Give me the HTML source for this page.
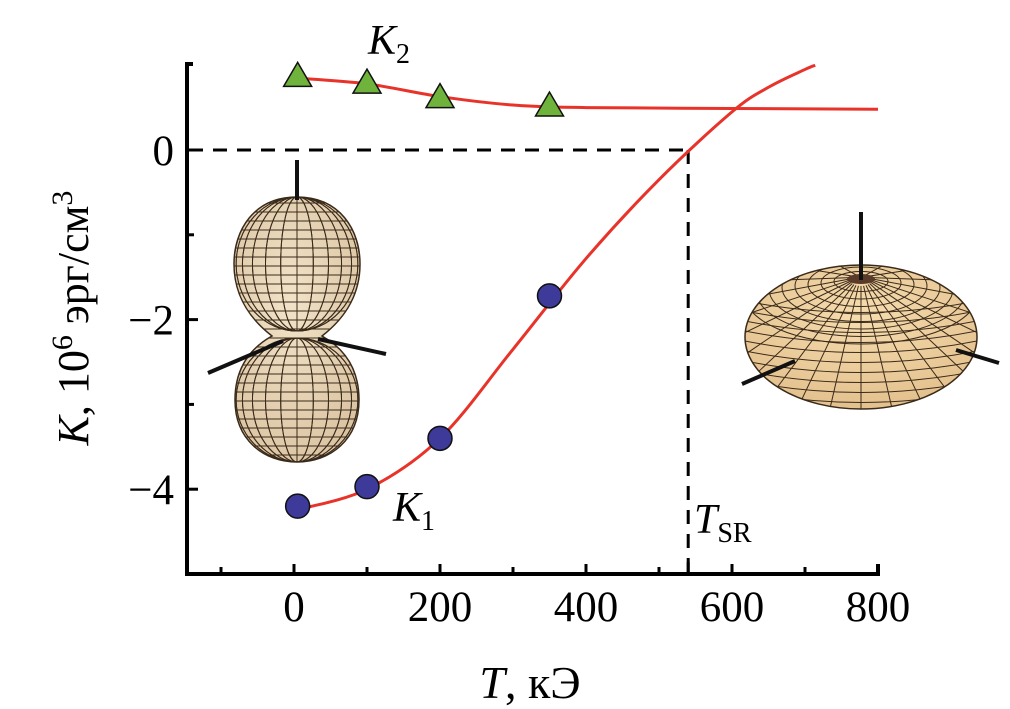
<!DOCTYPE html>
<html><head><meta charset="utf-8">
<style>
html,body{margin:0;padding:0;background:#fff;}
svg{display:block;font-family:"Liberation Serif",serif;}
</style></head>
<body>
<svg id="chart" width="1010" height="709" viewBox="0 0 1010 709">
<defs>
<clipPath id="peanutClip"><path d="M297,197 C340,197 360,230 360,264 C360,300 340,322 322,336 C347,350 359,372 359,400 C359,440 330,462 297,462 C264,462 235,440 235,400 C235,372 247,350 272,336 C254,322 234,300 234,264 C234,230 254,197 297,197 Z"/></clipPath>
<clipPath id="torusClip"><ellipse cx="861" cy="337" rx="116" ry="72"/></clipPath>
<radialGradient id="peanutGrad" cx="0.45" cy="0.4" r="0.7"><stop offset="0" stop-color="#f2e3c8"/><stop offset="1" stop-color="#d9c2a0"/></radialGradient>
<radialGradient id="torusGrad" cx="0.5" cy="0.35" r="0.7"><stop offset="0" stop-color="#f6dcae"/><stop offset="1" stop-color="#e2bf8c"/></radialGradient>
</defs>
<g id="peanut"></g>
<g id="torus"></g>
<g id="plot"></g>
</svg>
<script>
const xTicks=[0,200,400,600,800];
const xMinor=[-100,100,300,500,700];
const yTicks=[0,-2,-4];
const yMinor=[-1,-3];
const k1T=[5,100,200,350];
const k1V=[-4.2,-3.97,-3.4,-1.72];
const k2T=[5,100,200,350];
const k2V=[0.88,0.80,0.63,0.53];
const k1FitT=[0,100,200,300,400,500,600,650,700,714];
const k1FitV=[-4.25,-4.0,-3.4,-2.35,-1.28,-0.35,0.45,0.74,0.95,1.0];
const k2FitT=[0,100,200,300,400,600,800];
const k2FitV=[0.85,0.78,0.63,0.53,0.5,0.49,0.48];
const tSR=540;

const X=t=>294+t*0.73;
const Y=v=>150-v*84.8;
const NS='http://www.w3.org/2000/svg';
function mk(tag,attrs,parent){const e=document.createElementNS(NS,tag);for(const k in attrs)e.setAttribute(k,attrs[k]);(parent||plot).appendChild(e);return e;}
const plot=document.getElementById('plot');
const peanut=document.getElementById('peanut');
const torus=document.getElementById('torus');

let e=mk('path',{d:document.querySelector('#peanutClip path').getAttribute('d'),fill:'url(#peanutGrad)',stroke:'#3a2a1a','stroke-width':1.5},peanut);


let pg=mk('g',{'clip-path':'url(#peanutClip)',stroke:'#3a2a1a','stroke-width':1,fill:'none'},peanut);


for(let y=203;y<462;y+=9){mk('line',{x1:230,x2:365,y1:y,y2:y},pg);}
for(let i=1;i<12;i++){const rx=63*Math.cos(i*Math.PI/12);mk('ellipse',{cx:297,cy:264,rx:Math.abs(rx),ry:67},pg);mk('ellipse',{cx:297,cy:400,rx:Math.abs(rx),ry:62},pg);}
e=mk('line',{x1:297,y1:160,x2:297,y2:200,stroke:'#111','stroke-width':4},peanut);

e=mk('line',{x1:208,y1:373,x2:283,y2:341,stroke:'#111','stroke-width':4},peanut);

e=mk('line',{x1:318,y1:339,x2:386,y2:354,stroke:'#111','stroke-width':4},peanut);


e=mk('ellipse',{cx:861,cy:337,rx:116,ry:72,fill:'url(#torusGrad)',stroke:'#3a2a1a','stroke-width':1.5},torus);

let tg=mk('g',{'clip-path':'url(#torusClip)',stroke:'#3a2a1a','stroke-width':1,fill:'none'},torus);

for(let i=1;i<9;i++){mk('ellipse',{cx:861,cy:280+i*1.5,rx:14+i*13,ry:4+i*6},tg);}
for(let y=300;y<410;y+=10){mk('path',{d:`M740,${y} Q861,${y+25} 982,${y}`},tg);}
for(let i=0;i<24;i++){const a=i*Math.PI/12;const c=Math.cos(a),s=Math.sin(a);mk('line',{x1:861+10*c,y1:281+5*s,x2:861+125*c,y2:337+80*s},tg);}
e=mk('ellipse',{cx:861,cy:279,rx:14,ry:5,fill:'#5a3a28'},torus);

e=mk('line',{x1:861,y1:212,x2:861,y2:280,stroke:'#111','stroke-width':4},torus);

e=mk('line',{x1:742,y1:384,x2:795,y2:361,stroke:'#111','stroke-width':4},torus);

e=mk('line',{x1:956,y1:350,x2:999,y2:363,stroke:'#111','stroke-width':4},torus);


e=mk('path',{d:`M193,64 H187 V574 H878 V564`,fill:'none',stroke:'#000','stroke-width':4});

xTicks.forEach(t=>{let l=mk('line',{x1:X(t),x2:X(t),y1:574,y2:564,stroke:'#000','stroke-width':3});

let tx=mk('text',{x:X(t),y:621,'font-size':43,'text-anchor':'middle'});tx.textContent=t;
});
xMinor.forEach(t=>{let l=mk('line',{x1:X(t),x2:X(t),y1:574,y2:567,stroke:'#000','stroke-width':3});
});
yTicks.forEach(v=>{let l=mk('line',{x1:187,x2:198,y1:Y(v),y2:Y(v),stroke:'#000','stroke-width':3});

let tx=mk('text',{x:174,y:Y(v)+15,'font-size':43,'text-anchor':'end'});tx.textContent=v<0?'\u2212'+(-v):v;
});
yMinor.forEach(v=>{let l=mk('line',{x1:187,x2:194,y1:Y(v),y2:Y(v),stroke:'#000','stroke-width':3});
});
e=mk('line',{x1:X(tSR),x2:X(tSR),y1:574,y2:562,stroke:'#000','stroke-width':3});


e=mk('line',{x1:189,x2:X(tSR),y1:Y(0),y2:Y(0),stroke:'#000','stroke-width':3,'stroke-dasharray':'14,10'});

e=mk('line',{x1:X(tSR),x2:X(tSR),y1:Y(0),y2:572,stroke:'#000','stroke-width':3,'stroke-dasharray':'14,10'});


function smooth(ts,vs){const p=ts.map((t,i)=>[X(t),Y(vs[i])]);let d=`M${p[0][0]},${p[0][1]}`;
for(let i=0;i<p.length-1;i++){const p0=p[i-1]||p[i],p1=p[i],p2=p[i+1],p3=p[i+2]||p2;
d+=` C${p1[0]+(p2[0]-p0[0])/6},${p1[1]+(p2[1]-p0[1])/6} ${p2[0]-(p3[0]-p1[0])/6},${p2[1]-(p3[1]-p1[1])/6} ${p2[0]},${p2[1]}`;}return d;}
e=mk('path',{d:smooth(k2FitT,k2FitV),fill:'none',stroke:'#e8332a','stroke-width':3});

e=mk('path',{d:smooth(k1FitT,k1FitV),fill:'none',stroke:'#e8332a','stroke-width':3});


k1T.forEach((t,i)=>{let c=mk('circle',{cx:X(t),cy:Y(k1V[i]),r:12,fill:'#3d3a99',stroke:'#111','stroke-width':1.5});
});
k2T.forEach((t,i)=>{const x=X(t),y=Y(k2V[i]);let p=mk('polygon',{points:`${x},${y-13} ${x-14},${y+11} ${x+14},${y+11}`,fill:'#6fb33d',stroke:'#111','stroke-width':1.5});
});

function lab(html,x,y,name,anchor,rot,fs){const t=mk('text',{x:x,y:y,'font-size':fs||42,'text-anchor':anchor||'start'});if(rot)t.setAttribute('transform',rot);t.innerHTML=html;
return t;}
lab('<tspan font-style="italic">K</tspan><tspan font-size="28" dy="9">2</tspan>',368,54,'k2-label');
lab('<tspan font-style="italic">K</tspan><tspan font-size="28" dy="9">1</tspan>',393,521,'k1-label');
lab('<tspan font-style="italic">T</tspan><tspan font-size="28" dy="9">SR</tspan>',694,533,'tsr-label');
lab('<tspan font-style="italic">T</tspan>, кЭ',530,698,'x-axis-title','middle',null,46);
lab('<tspan font-style="italic">K</tspan>, 10<tspan font-size="30" dy="-16">6</tspan><tspan dy="16"> эрг/см</tspan><tspan font-size="30" dy="-16">3</tspan>',0,0,'y-axis-title','middle','translate(88,318) rotate(-90)',44);
</script>
</body></html>
